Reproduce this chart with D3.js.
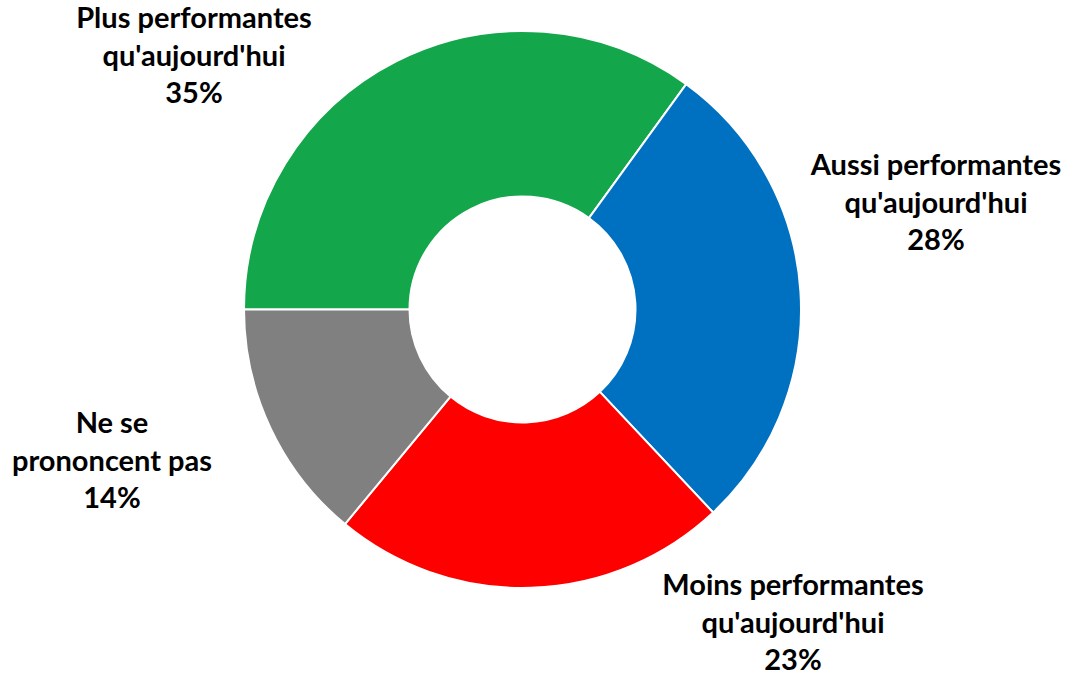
<!DOCTYPE html>
<html>
<head>
<meta charset="utf-8">
<script src="https://cdnjs.cloudflare.com/ajax/libs/d3/7.8.5/d3.min.js"></script>
<style>
  body { margin: 0; background: #fff; }
  text { font-family: Lato, "Open Sans", sans-serif; font-weight: bold; }
</style>
</head>
<body>
<div id="chart"></div>
<script>
var categories = ["Plus performantes qu'aujourd'hui", "Aussi performantes qu'aujourd'hui", "Moins performantes qu'aujourd'hui", "Ne se prononcent pas"];
var labelLines = [["Plus performantes", "qu'aujourd'hui"], ["Aussi performantes", "qu'aujourd'hui"], ["Moins performantes", "qu'aujourd'hui"], ["Ne se", "prononcent pas"]];
var values = [35, 28, 23, 14];
var colors = ["#13A64B", "#0070C0", "#FF0000", "#808080"];

var width = 1073, height = 677;
var cx = 522.5, cy = 309.5;
var outerR = 278.5, innerR = 113;
// label anchor points (baseline of the first line)
var labelPos = [[194, 28], [936, 175], [793, 595], [112, 433]];
var lineH = 37.5;

var svg = d3.select('#chart').append('svg')
  .attr('width', width)
  .attr('height', height);

var pie = d3.pie().sort(null).startAngle(-Math.PI / 2).endAngle(1.5 * Math.PI);
var arc = d3.arc().innerRadius(innerR).outerRadius(outerR);

var g = svg.append('g').attr('transform', 'translate(' + cx + ',' + cy + ')');

g.selectAll('path')
  .data(pie(values))
  .enter()
  .append('path')
  .attr('d', arc)
  .attr('fill', function (d, i) { return colors[i]; })
  .attr('stroke', '#fff')
  .attr('stroke-width', 2);

var labels = svg.selectAll('text.lbl')
  .data(values)
  .enter()
  .append('text')
  .attr('class', 'lbl')
  .attr('text-anchor', 'middle')
  .attr('font-size', 29)
  .attr('fill', '#000');

labels.each(function (d, i) {
  var t = d3.select(this);
  var lines = labelLines[i].concat([d + '%']);
  lines.forEach(function (s, j) {
    t.append('tspan')
      .attr('x', labelPos[i][0])
      .attr('y', labelPos[i][1] + j * lineH)
      .text(s);
  });
});
</script>
</body>
</html>
